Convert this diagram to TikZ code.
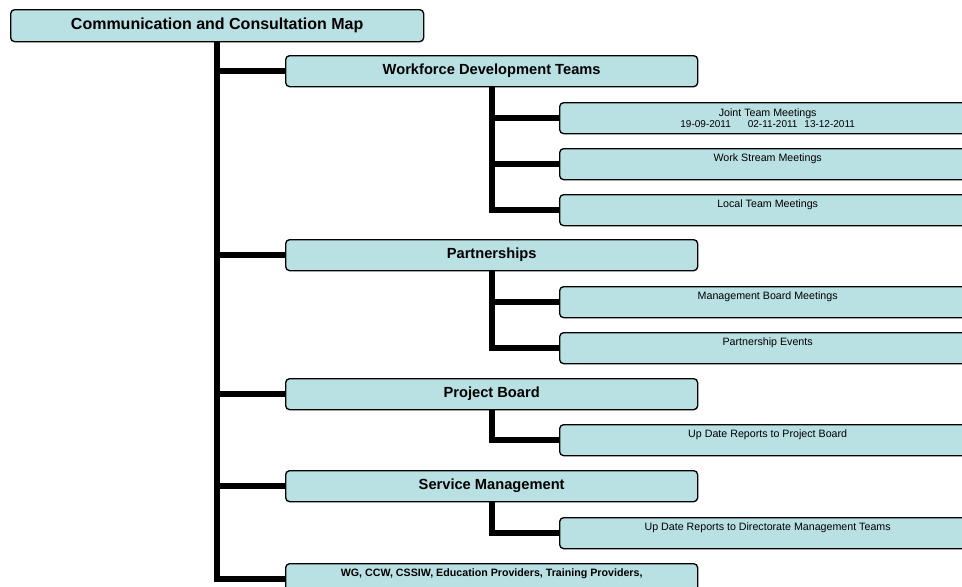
\documentclass[tikz,border=0pt]{standalone}
\usepackage{fontspec}
\setmainfont{Liberation Sans}
\usetikzlibrary{backgrounds}

\definecolor{boxfill}{RGB}{185,224,227}

\tikzset{
  box/.style={draw, line width=1pt, rounded corners=3pt, fill=boxfill,
    anchor=north west, inner sep=0pt},
  mapbox/.style={box, minimum width=309.75pt, minimum height=24pt,
    font=\bfseries\fontsize{12}{14}\selectfont},
  groupbox/.style={box, minimum width=309pt, minimum height=23.25pt,
    font=\bfseries\fontsize{11}{13}\selectfont},
  itembox/.style={box, minimum width=312pt, minimum height=23.25pt,
    font=\fontsize{8}{9}\selectfont},
  toptext/.style={text height=9.75pt, text depth=13.5pt},
  conn/.style={line width=4.5pt}
}

\begin{document}
\begin{tikzpicture}[x=0.75pt, y=-0.75pt]

\useasboundingbox (0,0) rectangle (962,586);
\clip (0,0) rectangle (962,586);

% Title
\node[mapbox] (map) at (10,9) {Communication and Consultation Map};

% First level
\node[groupbox] (wdt)  at (285,55)  {Workforce Development Teams};
\node[groupbox] (part) at (285,239) {Partnerships};
\node[groupbox] (pb)   at (285,378) {Project Board};
\node[groupbox] (sm)   at (285,470) {Service Management};
\node[itembox, toptext, minimum width=309pt, font=\bfseries\fontsize{8}{9}\selectfont] (wg) at (285,563)
    {WG, CCW, CSSIW, Education Providers, Training Providers,};

% Second level
\node[itembox, align=center] (jtm) at (559,102)
    {Joint Team Meetings\\[-1pt]
     {\fontsize{7.5}{9}\selectfont 19-09-2011\hspace{12.75pt}02-11-2011\hspace{5.25pt}13-12-2011}};
\node[itembox, toptext] (wsm)  at (559,148) {Work Stream Meetings};
\node[itembox, toptext] (ltm)  at (559,194) {Local Team Meetings};
\node[itembox, toptext] (mbm)  at (559,286) {Management Board Meetings};
\node[itembox, toptext] (pev)  at (559,332) {Partnership Events};
\node[itembox, toptext] (udpb) at (559,424) {Up Date Reports to Project Board};
\node[itembox, toptext] (udd)  at (559,517) {Up Date Reports to Directorate Management Teams};

% Connectors
\begin{pgfonlayer}{background}
  \draw[conn] (map.south) |- (wg.west);
  \foreach \g in {wdt, part, pb, sm}
    \draw[conn] (map.south |- \g.west) -- (\g.west);

  \draw[conn] (wdt.south) |- (ltm.west);
  \foreach \i in {jtm, wsm}
    \draw[conn] (wdt.south |- \i.west) -- (\i.west);

  \draw[conn] (part.south) |- (pev.west);
  \draw[conn] (part.south |- mbm.west) -- (mbm.west);

  \draw[conn] (pb.south) |- (udpb.west);
  \draw[conn] (sm.south) |- (udd.west);
\end{pgfonlayer}

\end{tikzpicture}
\end{document}
